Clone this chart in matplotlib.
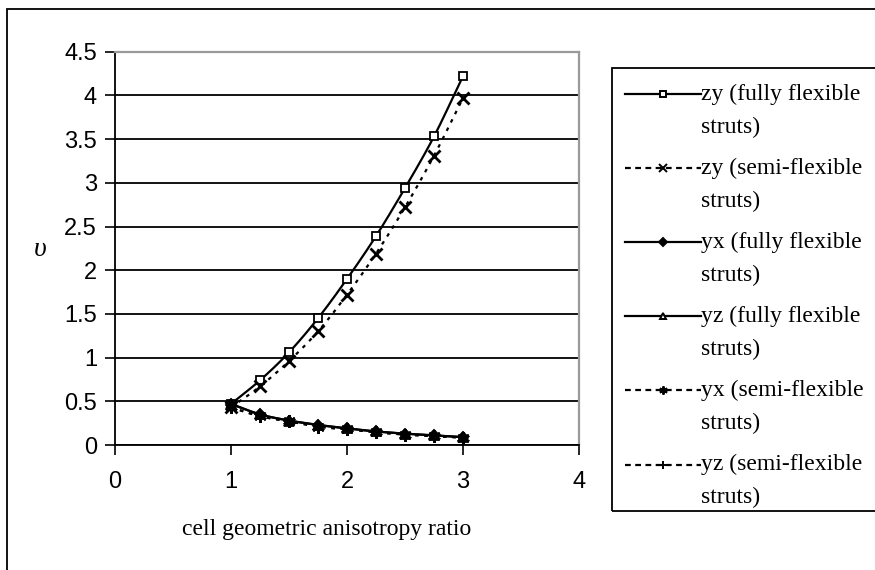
import numpy as np
import matplotlib
matplotlib.use("Agg")
import matplotlib.pyplot as plt
from matplotlib.patches import Rectangle
from matplotlib.legend_handler import HandlerLine2D

# anisotropy ratio of the cell
ratio = [1.0, 1.25, 1.5, 1.75, 2.0, 2.25, 2.5, 2.75, 3.0]

# Poisson's ratios
zy_full = [0.47, 0.74, 1.06, 1.45, 1.90, 2.39, 2.94, 3.53, 4.22]
zy_semi = [0.43, 0.67, 0.96, 1.30, 1.72, 2.19, 2.72, 3.31, 3.97]
yx_full = [0.47, 0.35, 0.28, 0.23, 0.19, 0.155, 0.13, 0.11, 0.09]
yz_full = [0.47, 0.35, 0.28, 0.23, 0.19, 0.155, 0.13, 0.11, 0.09]
yx_semi = [0.43, 0.33, 0.27, 0.21, 0.18, 0.145, 0.12, 0.10, 0.085]
yz_semi = [0.43, 0.33, 0.27, 0.21, 0.18, 0.145, 0.12, 0.10, 0.085]

labels = [
    "zy (fully flexible\nstruts)",
    "zy (semi-flexible\nstruts)",
    "yx (fully flexible\nstruts)",
    "yz (fully flexible\nstruts)",
    "yx (semi-flexible\nstruts)",
    "yz (semi-flexible\nstruts)",
]

x_ticks = [0, 1, 2, 3, 4]
y_ticks = [0, 0.5, 1, 1.5, 2, 2.5, 3, 3.5, 4, 4.5]


def smooth(xs, ys, n=24):
    """Catmull-Rom curve through the given points (spreadsheet-style smoothing)."""
    p = np.column_stack([xs, ys]).astype(float)
    p = np.vstack([2 * p[0] - p[1], p, 2 * p[-1] - p[-2]])
    out = []
    t = np.linspace(0, 1, n, endpoint=False)[:, None]
    for i in range(1, len(p) - 2):
        p0, p1, p2, p3 = p[i - 1], p[i], p[i + 1], p[i + 2]
        seg = 0.5 * ((2 * p1) + (-p0 + p2) * t +
                     (2 * p0 - 5 * p1 + 4 * p2 - p3) * t ** 2 +
                     (-p0 + 3 * p1 - 3 * p2 + p3) * t ** 3)
        out.append(seg)
    out.append(p[-2][None, :])
    out = np.vstack(out)
    return out[:, 0], out[:, 1]


class FirstLineHandler(HandlerLine2D):
    """Legend handle drawn level with the first line of a two-line label."""

    def __init__(self, shift, **kw):
        super().__init__(**kw)
        self.shift = shift

    def create_artists(self, legend, orig_handle, xdescent, ydescent,
                       width, height, fontsize, trans):
        arts = super().create_artists(legend, orig_handle, xdescent, ydescent,
                                      width, height, fontsize, trans)
        for a in arts:
            a.set_ydata(np.asarray(a.get_ydata(), dtype=float) + self.shift)
        return arts


fig = plt.figure(figsize=(8.75, 5.7), dpi=100)
ax = fig.add_axes([115 / 875, 1 - 445 / 570, (579 - 115) / 875, (445 - 51.7) / 570])

dotted = (0, (1.6, 2.6))
series = [
    (zy_full, "-", dict(marker="s", ms=5.5, mfc="white", mew=1.3)),
    (zy_semi, dotted, dict(marker="x", ms=8, mew=2.0)),
    (yx_full, "-", dict(marker="D", ms=5.5, mfc="black", mew=1.3)),
    (yz_full, "-", dict(marker="^", ms=6.5, mfc="black", mew=1.3)),
    (yx_semi, dotted, dict(marker=(6, 2, 0), ms=9, mew=2.0)),
    (yz_semi, dotted, dict(marker="+", ms=7, mew=1.8)),
]
legend_ms = [4.5, 6, 4, 5, 6, 6]

handles = []
for (vals, ls, mk), lab, lms in zip(series, labels, legend_ms):
    sx, sy = smooth(ratio, vals)
    ax.plot(sx, sy, color="black", lw=1.6, ls=ls, zorder=3)
    ax.plot(ratio, vals, ls="none", color="black", mec="black", zorder=4, **mk)
    style = dict(mk)
    style["ms"] = lms
    style["mew"] = 1.4
    if style["marker"] == "^":
        style["mfc"] = "white"
    h, = ax.plot([], [], color="black", lw=1.6,
                 ls="-" if ls == "-" else (0, (2.6, 2.0)),
                 mec="black", label=lab, **style)
    handles.append(h)

ax.set_xlim(0, 4)
ax.set_ylim(0, 4.5)
ax.set_xticks(x_ticks)
ax.set_yticks(y_ticks)
ax.set_xticklabels([f"{v:g}" for v in x_ticks])
ax.set_yticklabels([f"{v:g}" for v in y_ticks])
ax.tick_params(labelsize=17, length=7, width=1.2, color="black",
               labelcolor="black")
ax.tick_params(axis="x", pad=12)
ax.tick_params(axis="y", pad=6)
for lab in ax.get_xticklabels() + ax.get_yticklabels():
    lab.set_fontfamily("Liberation Sans")

ax.grid(axis="y", color="black", lw=1.3, zorder=1)
ax.set_axisbelow(True)
for side in ("left", "bottom"):
    ax.spines[side].set_color("black")
    ax.spines[side].set_linewidth(1.3)
for side in ("top", "right"):
    ax.spines[side].set_color("#999999")
    ax.spines[side].set_linewidth(1.6)

fig.text(327 / 875, 1 - 530 / 570, "cell geometric anisotropy ratio",
         fontsize=17, fontfamily="Liberation Serif", ha="center", va="center")
fig.text(40 / 875, 1 - 250 / 570, "\u03c5", fontsize=20,
         fontfamily="Liberation Serif", fontstyle="italic",
         ha="center", va="center")

# legend entries (box drawn separately so it can run past the right edge)
handler = FirstLineHandler(shift=11.9)
leg = ax.legend(handles=handles, loc="upper left",
                bbox_to_anchor=(612 / 875, 1 - 70.5 / 570),
                bbox_transform=fig.transFigure,
                prop={"family": "Liberation Serif", "size": 17},
                frameon=False, handlelength=3.2, handletextpad=0.0,
                borderpad=0.55, labelspacing=0.84, numpoints=1,
                borderaxespad=0, handler_map={h: handler for h in handles})
for t in leg.get_texts():
    t.set_linespacing(1.74)

legend_box = Rectangle((612 / 875, 1 - 511 / 570), 0.4, (511 - 67.7) / 570,
                       transform=fig.transFigure, fill=False,
                       edgecolor="black", lw=1.3)
fig.patches.append(legend_box)

# outer chart border
fig.patches.append(Rectangle((7 / 875, -0.2), 1.2, 1.2 - 8.5 / 570,
                             transform=fig.transFigure, fill=False,
                             edgecolor="black", lw=1.3))

fig.savefig("out.png", dpi=100)
